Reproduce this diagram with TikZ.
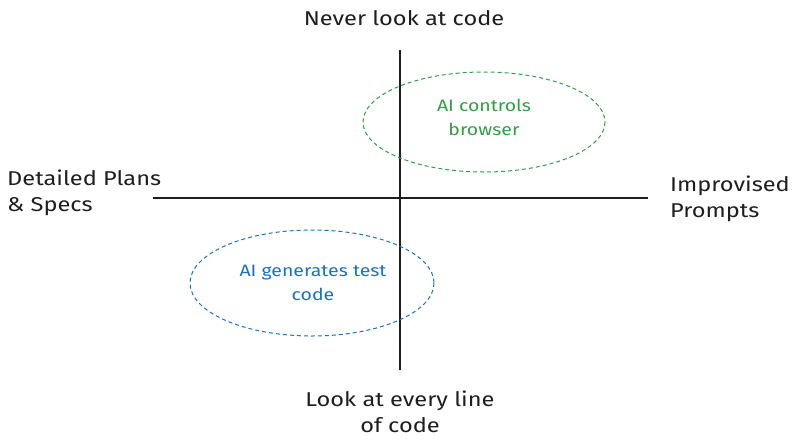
\documentclass[tikz,border=0pt]{standalone}
\usepackage{fontspec}
\setmainfont{Fira Sans}[FakeStretch=1.18]
\definecolor{eg}{HTML}{2F9E44}
\definecolor{eb}{HTML}{1971C2}
\definecolor{ink}{HTML}{1E1E1E}
\begin{document}
\begin{tikzpicture}[x=1pt,y=-1pt,
  lbl/.style={font=\fontsize{20}{26}\selectfont, text=ink, align=center, inner sep=0pt},
  sml/.style={font=\fontsize{16.5}{24}\selectfont, align=center, inner sep=0pt},
  ax/.style={draw=ink, line width=1.1pt},
  ell/.style={line width=1pt, dash pattern=on 4pt off 3pt}]
\useasboundingbox (0,0) rectangle (800,447);
\coordinate (vt) at (400,50); \coordinate (vb) at (400,370);
\coordinate (hl) at (153,198); \coordinate (hr) at (648,198);
\draw[ax] (vt) -- (vb);
\draw[ax] (hl) -- (hr);
\draw[ell, draw=eg] (484,122) ellipse [x radius=121, y radius=50];
\draw[ell, draw=eb] (312,283) ellipse [x radius=122, y radius=53];
\node[lbl] (top) at (404,18) {Never look at code};
\node[lbl, align=left, anchor=west] (left) at (7,193) {Detailed Plans\\\& Specs};
\node[lbl, align=left, anchor=west] (right) at (670,199) {Improvised\\Prompts};
\node[lbl] (bot) at (400,412) {Look at every line\\of code};
\node[sml, text=eg] (g) at (484,117) {AI controls\\browser};
\node[sml, text=eb] (b) at (313,283) {AI generates test\\code};
\end{tikzpicture}
\end{document}
